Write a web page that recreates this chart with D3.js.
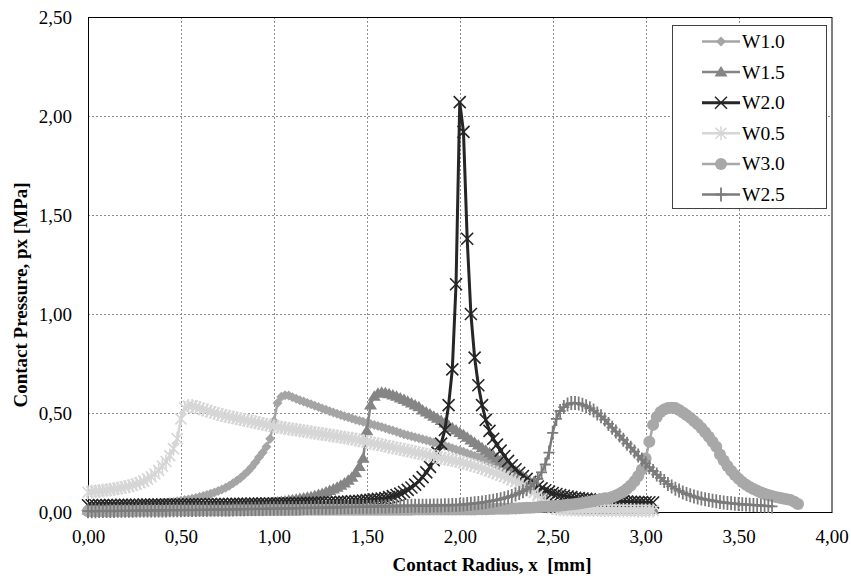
<!DOCTYPE html>
<html>
<head>
<meta charset="utf-8">
<script src="https://cdn.jsdelivr.net/npm/d3@7/dist/d3.min.js"></script>
<style>
  body { margin: 0; background: #fff; }
  svg text { font-family: "Liberation Serif", "Times New Roman", serif; fill: #000; }
</style>
</head>
<body>
<svg id="chart" width="851" height="578"></svg>
<script>
// ---- data (x = index * X_STEP, in mm; values in MPa) ----
const X_STEP = 0.02;

const xTicks = [0, 0.5, 1, 1.5, 2, 2.5, 3, 3.5, 4];
const xTickLabels = ["0,00", "0,50", "1,00", "1,50", "2,00", "2,50", "3,00", "3,50", "4,00"];
const yTicks = [0, 0.5, 1, 1.5, 2, 2.5];
const yTickLabels = ["0,00", "0,50", "1,00", "1,50", "2,00", "2,50"];

const seriesNames = ["W1.0", "W1.5", "W2.0", "W0.5", "W3.0", "W2.5"];

const w10 = [
  0.020,0.020,0.021,0.022,0.023,0.024,0.025,0.026,0.027,0.028,
  0.030,0.031,0.032,0.033,0.035,0.036,0.038,0.039,0.041,0.043,
  0.045,0.047,0.049,0.051,0.054,0.057,0.060,0.063,0.067,0.071,
  0.076,0.081,0.086,0.092,0.099,0.106,0.114,0.123,0.133,0.145,
  0.158,0.172,0.188,0.206,0.226,0.250,0.276,0.300,0.330,0.370,
  0.460,0.550,0.582,0.590,0.588,0.580,0.572,0.565,0.558,0.551,
  0.544,0.537,0.530,0.523,0.516,0.509,0.502,0.496,0.490,0.484,
  0.478,0.472,0.466,0.461,0.456,0.450,0.445,0.440,0.434,0.429,
  0.423,0.417,0.411,0.405,0.399,0.393,0.388,0.382,0.377,0.372,
  0.367,0.362,0.357,0.351,0.346,0.340,0.334,0.328,0.322,0.316,
  0.310,0.304,0.297,0.290,0.283,0.276,0.269,0.261,0.253,0.245,
  0.236,0.227,0.217,0.207,0.196,0.185,0.174,0.162,0.150,0.137,
  0.123,0.108,0.092,0.074,0.055,0.038,0.027,0.021,0.018,0.016,
  0.015,0.014,0.014,0.013,0.013,0.012,0.012,0.012,0.011,0.011,
  0.011,0.011,0.010,0.010,0.010,0.010,0.010,0.010,0.009,0.009,
  0.009,0.009,0.009
];

const w15 = [
  0.010,0.010,0.010,0.011,0.011,0.011,0.011,0.012,0.012,0.012,
  0.012,0.013,0.013,0.013,0.014,0.014,0.014,0.015,0.015,0.015,
  0.016,0.016,0.017,0.017,0.018,0.018,0.019,0.019,0.020,0.020,
  0.021,0.022,0.022,0.023,0.024,0.025,0.026,0.027,0.028,0.029,
  0.030,0.031,0.033,0.034,0.036,0.037,0.039,0.041,0.043,0.045,
  0.048,0.050,0.053,0.056,0.059,0.062,0.065,0.068,0.071,0.074,
  0.077,0.082,0.088,0.094,0.101,0.108,0.116,0.125,0.135,0.147,
  0.160,0.176,0.198,0.230,0.272,0.410,0.540,0.585,0.600,0.605,
  0.602,0.597,0.591,0.584,0.576,0.568,0.559,0.550,0.541,0.532,
  0.515,0.505,0.495,0.484,0.473,0.462,0.450,0.438,0.426,0.414,
  0.402,0.390,0.377,0.364,0.351,0.338,0.325,0.312,0.299,0.286,
  0.273,0.260,0.247,0.234,0.221,0.207,0.193,0.179,0.165,0.150,
  0.135,0.118,0.098,0.075,0.050,0.032,0.024,0.020,0.018,0.017,
  0.016,0.016,0.015,0.015,0.015,0.014,0.014,0.014,0.014,0.013,
  0.013,0.013,0.013,0.013,0.012,0.012,0.012,0.012,0.012,0.012,
  0.012,0.012,0.012
];

const w20 = [
  0.034,0.034,0.034,0.035,0.035,0.035,0.035,0.035,0.035,0.036,
  0.036,0.036,0.036,0.036,0.036,0.037,0.037,0.037,0.037,0.037,
  0.037,0.038,0.038,0.038,0.038,0.038,0.038,0.039,0.039,0.039,
  0.039,0.039,0.039,0.040,0.040,0.040,0.040,0.040,0.040,0.041,
  0.041,0.041,0.041,0.041,0.042,0.042,0.042,0.042,0.042,0.043,
  0.043,0.043,0.043,0.044,0.044,0.044,0.045,0.045,0.045,0.046,
  0.046,0.047,0.047,0.048,0.048,0.049,0.049,0.050,0.051,0.052,
  0.053,0.054,0.055,0.056,0.058,0.060,0.062,0.064,0.066,0.068,
  0.071,0.075,0.080,0.086,0.093,0.101,0.112,0.124,0.138,0.156,
  0.176,0.200,0.228,0.262,0.300,0.345,0.415,0.540,0.720,1.150,
  2.070,1.920,1.380,1.000,0.780,0.640,0.540,0.465,0.410,0.370,
  0.340,0.310,0.283,0.258,0.236,0.216,0.198,0.182,0.167,0.153,
  0.140,0.129,0.119,0.110,0.103,0.096,0.091,0.086,0.082,0.078,
  0.075,0.072,0.070,0.068,0.066,0.064,0.062,0.061,0.060,0.059,
  0.058,0.057,0.056,0.055,0.054,0.053,0.052,0.051,0.050,0.050,
  0.049,0.049,0.048
];

const w05 = [
  0.100,0.102,0.104,0.106,0.108,0.110,0.113,0.116,0.119,0.122,
  0.126,0.130,0.135,0.141,0.148,0.156,0.166,0.178,0.192,0.210,
  0.232,0.255,0.285,0.320,0.370,0.470,0.525,0.535,0.535,0.530,
  0.524,0.518,0.512,0.506,0.500,0.495,0.490,0.485,0.481,0.477,
  0.473,0.469,0.465,0.461,0.457,0.453,0.449,0.445,0.441,0.437,
  0.433,0.430,0.427,0.424,0.421,0.418,0.415,0.412,0.409,0.406,
  0.403,0.400,0.397,0.394,0.391,0.388,0.385,0.382,0.379,0.376,
  0.373,0.370,0.366,0.362,0.358,0.354,0.350,0.346,0.342,0.338,
  0.334,0.330,0.326,0.322,0.318,0.314,0.310,0.306,0.302,0.298,
  0.294,0.290,0.286,0.282,0.278,0.274,0.270,0.266,0.262,0.258,
  0.254,0.249,0.244,0.239,0.233,0.227,0.221,0.215,0.208,0.201,
  0.194,0.187,0.179,0.171,0.163,0.154,0.145,0.135,0.124,0.112,
  0.099,0.084,0.067,0.048,0.030,0.020,0.016,0.014,0.013,0.012,
  0.012,0.012,0.011,0.011,0.011,0.011,0.010,0.010,0.010,0.010,
  0.010,0.010,0.009,0.009,0.009,0.009,0.009,0.009,0.008,0.008,
  0.008,0.008,0.008
];

const w30 = [
  0.004,0.004,0.004,0.004,0.004,0.004,0.005,0.005,0.005,0.005,
  0.005,0.005,0.005,0.005,0.006,0.006,0.006,0.006,0.006,0.006,
  0.006,0.006,0.007,0.007,0.007,0.007,0.007,0.007,0.007,0.007,
  0.008,0.008,0.008,0.008,0.008,0.008,0.008,0.008,0.008,0.009,
  0.009,0.009,0.009,0.009,0.009,0.009,0.009,0.009,0.010,0.010,
  0.010,0.010,0.010,0.010,0.010,0.010,0.010,0.010,0.011,0.011,
  0.011,0.011,0.011,0.011,0.011,0.011,0.011,0.011,0.011,0.011,
  0.011,0.011,0.011,0.011,0.011,0.011,0.011,0.011,0.011,0.011,
  0.011,0.011,0.011,0.011,0.011,0.011,0.011,0.011,0.012,0.012,
  0.012,0.012,0.012,0.012,0.012,0.012,0.012,0.012,0.012,0.012,
  0.012,0.012,0.013,0.013,0.013,0.014,0.014,0.014,0.015,0.015,
  0.016,0.016,0.017,0.017,0.018,0.018,0.019,0.020,0.021,0.022,
  0.023,0.024,0.025,0.026,0.027,0.029,0.030,0.032,0.034,0.036,
  0.038,0.040,0.043,0.046,0.049,0.052,0.056,0.060,0.064,0.069,
  0.070,0.076,0.083,0.092,0.103,0.117,0.134,0.155,0.182,0.215,
  0.270,0.355,0.440,0.480,0.505,0.518,0.525,0.527,0.525,0.515,
  0.503,0.490,0.476,0.460,0.443,0.424,0.403,0.380,0.355,0.330,
  0.290,0.260,0.232,0.208,0.187,0.168,0.152,0.138,0.126,0.116,
  0.107,0.099,0.092,0.086,0.081,0.076,0.072,0.068,0.064,0.060,
  0.052,0.040
];

const w25 = [
  0.004,0.004,0.004,0.005,0.005,0.005,0.005,0.005,0.006,0.006,
  0.006,0.006,0.006,0.007,0.007,0.007,0.007,0.007,0.008,0.008,
  0.008,0.008,0.009,0.009,0.009,0.009,0.010,0.010,0.010,0.010,
  0.011,0.011,0.011,0.012,0.012,0.012,0.012,0.013,0.013,0.013,
  0.014,0.014,0.014,0.015,0.015,0.015,0.016,0.016,0.016,0.017,
  0.017,0.017,0.018,0.018,0.018,0.019,0.019,0.020,0.020,0.020,
  0.021,0.021,0.022,0.022,0.022,0.023,0.023,0.024,0.024,0.025,
  0.025,0.025,0.026,0.026,0.026,0.027,0.027,0.027,0.028,0.028,
  0.028,0.029,0.029,0.029,0.030,0.030,0.030,0.031,0.031,0.031,
  0.032,0.032,0.032,0.033,0.033,0.033,0.034,0.034,0.035,0.035,
  0.036,0.038,0.040,0.042,0.044,0.046,0.048,0.051,0.054,0.057,
  0.061,0.065,0.070,0.075,0.081,0.088,0.096,0.105,0.115,0.128,
  0.145,0.168,0.200,0.240,0.300,0.400,0.470,0.510,0.530,0.543,
  0.550,0.551,0.548,0.542,0.534,0.524,0.512,0.498,0.483,0.467,
  0.445,0.426,0.406,0.386,0.365,0.345,0.325,0.305,0.285,0.265,
  0.246,0.226,0.207,0.189,0.172,0.156,0.142,0.129,0.118,0.108,
  0.099,0.091,0.084,0.078,0.073,0.068,0.064,0.060,0.057,0.054,
  0.051,0.048,0.046,0.044,0.042,0.040,0.039,0.038,0.036,0.035,
  0.034,0.033,0.031,0.030,0.028
];

const seriesValues = [w10, w15, w20, w05, w30, w25];

// ---- styles ----
const seriesColors = ["#a5a5a5", "#858585", "#262626", "#d6d6d6", "#a8a8a8", "#7b7b7b"];
const seriesMarkers = ["diamond", "triangle", "x", "star", "circle", "plus"];
const seriesLineWidths = [2.5, 2.5, 3, 2.5, 2.5, 2.5];

const markerPaths = {
  diamond: "M0,-5L5,0L0,5L-5,0Z",
  triangle: "M0,-6L6.5,4.5L-6.5,4.5Z",
  x: "M-6,-6L6,6M-6,6L6,-6",
  star: "M-5.5,-5.5L5.5,5.5M-5.5,5.5L5.5,-5.5M0,-7L0,7",
  circle: "M6,0A6,6 0 1,1 -6,0A6,6 0 1,1 6,0Z",
  plus: "M-5.5,0L5.5,0M0,-7L0,7"
};
const filledMarkers = { diamond: true, triangle: true, circle: true };

const svg = d3.select("#chart");
const plotLeft = 88, plotRight = 831.5, plotTop = 17, plotBottom = 512;

const x = d3.scaleLinear().domain([0, 4]).range([plotLeft, plotRight]);
const y = d3.scaleLinear().domain([0, 2.5]).range([plotBottom, plotTop]);

// grid
const grid = svg.append("g");
grid.selectAll("line.v").data(xTicks.slice(1, -1)).join("line")
  .attr("class", "v")
  .attr("x1", d => Math.round(x(d)) + 0.5).attr("x2", d => Math.round(x(d)) + 0.5)
  .attr("y1", plotTop).attr("y2", plotBottom);
grid.selectAll("line.h").data(yTicks.slice(1, -1)).join("line")
  .attr("class", "h")
  .attr("x1", plotLeft).attr("x2", plotRight)
  .attr("y1", d => Math.round(y(d)) + 0.5).attr("y2", d => Math.round(y(d)) + 0.5);
grid.selectAll("line")
  .attr("stroke", "#8c8c8c").attr("stroke-width", 1).attr("stroke-dasharray", "2,2");

// plot border
svg.append("rect")
  .attr("x", plotLeft + 0.5).attr("y", plotTop + 0.5)
  .attr("width", plotRight - plotLeft).attr("height", plotBottom - plotTop)
  .attr("fill", "none").attr("stroke", "#000").attr("stroke-width", 1);

// axes labels (no tick marks)
const xAxis = d3.axisBottom(x).tickValues(xTicks)
  .tickFormat((d, i) => xTickLabels[i]).tickSize(0).tickPadding(18);
const gx = svg.append("g").attr("transform", `translate(0,${plotBottom})`).call(xAxis);
gx.select(".domain").remove();
gx.selectAll("text").attr("font-size", 19).attr("font-family", "Liberation Serif");

const yAxis = d3.axisLeft(y).tickValues(yTicks)
  .tickFormat((d, i) => yTickLabels[i]).tickSize(0).tickPadding(16);
const gy = svg.append("g").attr("transform", `translate(${plotLeft},0)`).call(yAxis);
gy.select(".domain").remove();
gy.selectAll("text").attr("font-size", 19).attr("font-family", "Liberation Serif");

// series
const line = d3.line().x(d => x(d[0])).y(d => y(d[1]));

seriesValues.forEach((vals, s) => {
  const pts = vals.map((v, i) => [i * X_STEP, v]);
  const color = seriesColors[s];
  const g = svg.append("g");
  g.append("path").datum(pts)
    .attr("d", line)
    .attr("fill", "none")
    .attr("stroke", color)
    .attr("stroke-width", seriesLineWidths[s])
    .attr("stroke-linejoin", "round");
  const m = seriesMarkers[s];
  g.selectAll("path.mk").data(pts).join("path")
    .attr("class", "mk")
    .attr("transform", d => `translate(${x(d[0])},${y(d[1])})`)
    .attr("d", markerPaths[m])
    .attr("fill", filledMarkers[m] ? color : "none")
    .attr("stroke", filledMarkers[m] ? "none" : color)
    .attr("stroke-width", m === "plus" ? 1.8 : 1.6);
});

// axis titles
svg.append("text")
  .attr("x", 492).attr("y", 571)
  .attr("text-anchor", "middle")
  .attr("font-size", 19).attr("font-weight", "bold")
  .style("white-space", "pre")
  .text("Contact Radius, x  [mm]");

svg.append("text")
  .attr("transform", "translate(27,295) rotate(-90)")
  .attr("text-anchor", "middle")
  .attr("font-size", 19).attr("font-weight", "bold")
  .text("Contact Pressure, px [MPa]");

// legend
const legend = svg.append("g");
legend.append("rect")
  .attr("x", 672.5).attr("y", 25.5).attr("width", 154).attr("height", 183)
  .attr("fill", "#fff").attr("stroke", "#404040").attr("stroke-width", 1);

seriesNames.forEach((name, s) => {
  const ly = 41.5 + s * 30.6;
  const color = seriesColors[s];
  const m = seriesMarkers[s];
  legend.append("line")
    .attr("x1", 702).attr("x2", 740).attr("y1", ly).attr("y2", ly)
    .attr("stroke", color).attr("stroke-width", seriesLineWidths[s]);
  legend.append("path")
    .attr("transform", `translate(721,${ly})`)
    .attr("d", markerPaths[m])
    .attr("fill", filledMarkers[m] ? color : "none")
    .attr("stroke", filledMarkers[m] ? "none" : color)
    .attr("stroke-width", m === "plus" ? 1.8 : 1.5);
  legend.append("text")
    .attr("x", 742).attr("y", ly + 6.5)
    .attr("font-size", 19.5)
    .text(name);
});
</script>
</body>
</html>
